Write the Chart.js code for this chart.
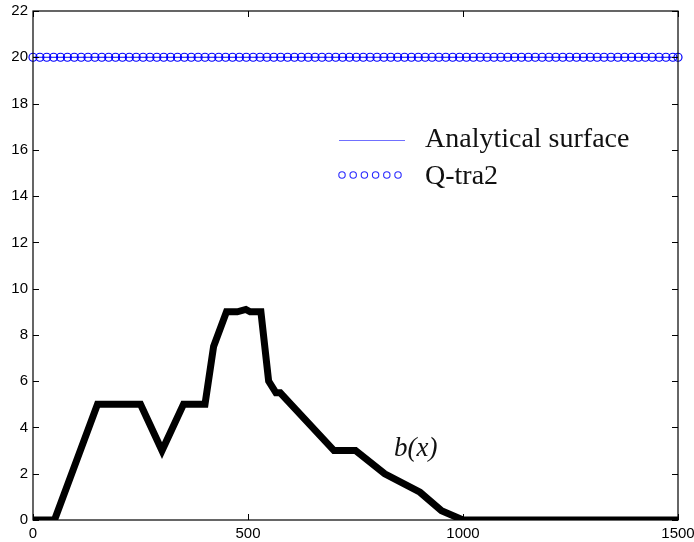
<!DOCTYPE html>
<html>
<head>
<meta charset="utf-8">
<script src="https://cdn.jsdelivr.net/npm/chart.js@4.4.0/dist/chart.umd.min.js"></script>
<style>
  html, body { margin: 0; padding: 0; background: #fff; }
  .wrap { width: 694px; height: 542px; }
</style>
</head>
<body>
<div class="wrap"><canvas id="chart"></canvas></div>
<script>
// bed profile b(x)
const bedX = [0, 50, 150, 250, 300, 350, 400, 420, 450, 475, 495, 505, 530, 548, 565, 575, 600, 700, 750, 818, 900, 950, 1000, 1500];
const bedY = [0, 0, 5, 5, 3, 5, 5, 7.5, 9, 9, 9.1, 9, 9, 6, 5.5, 5.5, 5, 3, 3, 2, 1.2, 0.4, 0, 0];

// analytical free surface
const surfX = [0, 1500];
const surfY = [20, 20];

// Q-tra2 markers
const qtraX = [0, 16, 32, 48, 64, 80, 96, 112, 128, 144, 160, 176, 192, 208, 224, 240, 256, 272, 288, 304,
  320, 336, 352, 368, 384, 400, 416, 432, 448, 464, 480, 496, 512, 528, 544, 560, 576, 592, 608, 624,
  640, 656, 672, 688, 704, 720, 736, 752, 768, 784, 800, 816, 832, 848, 864, 880, 896, 912, 928, 944,
  960, 976, 992, 1008, 1024, 1040, 1056, 1072, 1088, 1104, 1120, 1136, 1152, 1168, 1184, 1200, 1216, 1232,
  1248, 1264, 1280, 1296, 1312, 1328, 1344, 1360, 1376, 1392, 1408, 1424, 1440, 1456, 1472, 1488, 1500];
const qtraY = [20, 20, 20, 20, 20, 20, 20, 20, 20, 20, 20, 20, 20, 20, 20, 20, 20, 20, 20, 20,
  20, 20, 20, 20, 20, 20, 20, 20, 20, 20, 20, 20, 20, 20, 20, 20, 20, 20, 20, 20,
  20, 20, 20, 20, 20, 20, 20, 20, 20, 20, 20, 20, 20, 20, 20, 20, 20, 20, 20, 20,
  20, 20, 20, 20, 20, 20, 20, 20, 20, 20, 20, 20, 20, 20, 20, 20, 20, 20,
  20, 20, 20, 20, 20, 20, 20, 20, 20, 20, 20, 20, 20, 20, 20, 20, 20];

const xTicks = [0, 500, 1000, 1500];
const yTicks = [0, 2, 4, 6, 8, 10, 12, 14, 16, 18, 20, 22];

const legendItems = ['Analytical surface', 'Q-tra2'];
const curveLabel = 'b(x)';

const toPoints = (xs, ys) => xs.map((x, i) => ({ x: x, y: ys[i] }));

// box, inward ticks (matlab style), legend and the b(x) label
const framePlugin = {
  id: 'frame',
  afterDraw(chart) {
    const { ctx, chartArea: a, scales } = chart;
    const xs = scales.x;
    const ys = scales.y;
    ctx.save();
    ctx.strokeStyle = '#000';
    ctx.lineWidth = 1.2;
    ctx.strokeRect(a.left, a.top, a.right - a.left, a.bottom - a.top);

    ctx.lineWidth = 1;
    ctx.beginPath();
    xTicks.forEach(v => {
      const px = Math.round(xs.getPixelForValue(v)) + 0.5;
      ctx.moveTo(px, a.bottom); ctx.lineTo(px, a.bottom - 6);
      ctx.moveTo(px, a.top); ctx.lineTo(px, a.top + 6);
    });
    yTicks.forEach(v => {
      const py = Math.round(ys.getPixelForValue(v)) + 0.5;
      ctx.moveTo(a.left, py); ctx.lineTo(a.left + 6, py);
      ctx.moveTo(a.right, py); ctx.lineTo(a.right - 6, py);
    });
    ctx.stroke();

    // legend
    ctx.strokeStyle = '#7070ff';
    ctx.lineWidth = 1;
    ctx.beginPath();
    ctx.moveTo(339, 140.5); ctx.lineTo(405, 140.5);
    ctx.stroke();
    ctx.strokeStyle = '#2a2aff';
    ctx.lineWidth = 1.1;
    for (let i = 0; i < 6; i++) {
      ctx.beginPath();
      ctx.arc(342 + i * 11.2, 175, 3.2, 0, Math.PI * 2);
      ctx.stroke();
    }
    ctx.fillStyle = '#111';
    ctx.font = '28px "Liberation Serif", serif';
    ctx.textBaseline = 'alphabetic';
    ctx.fillText(legendItems[0], 425, 147);
    ctx.fillText(legendItems[1], 425, 184);

    // curve label
    ctx.font = 'italic 27px "Liberation Serif", serif';
    ctx.textAlign = 'center';
    ctx.fillText(curveLabel, xs.getPixelForValue(890), ys.getPixelForValue(2.75));
    ctx.restore();
  }
};

new Chart(document.getElementById('chart'), {
  type: 'line',
  data: {
    datasets: [
      {
        label: legendItems[1],
        data: toPoints(qtraX, qtraY),
        showLine: false,
        pointStyle: 'circle',
        pointRadius: 4,
        pointBorderWidth: 1.2,
        pointBorderColor: '#0000ff',
        pointBackgroundColor: 'rgba(0,0,0,0)',
        clip: false,
      },
      {
        label: legendItems[0],
        data: toPoints(surfX, surfY),
        borderColor: '#0000ff',
        borderWidth: 1,
        pointRadius: 0,
      },
      {
        label: curveLabel,
        data: toPoints(bedX, bedY),
        borderColor: '#000',
        borderWidth: 7,
        borderJoinStyle: 'miter',
        pointRadius: 0,
        clip: 0,
      },
    ],
  },
  options: {
    responsive: true,
    maintainAspectRatio: false,
    animation: false,
    layout: { padding: { top: 11, right: 16, left: 0, bottom: 0 } },
    plugins: {
      legend: { display: false },
      tooltip: { enabled: false },
    },
    scales: {
      x: {
        type: 'linear',
        min: 0,
        max: 1500,
        grid: { display: false, drawTicks: false },
        border: { display: false },
        afterBuildTicks: s => { s.ticks = xTicks.map(v => ({ value: v })); },
        afterFit: s => { s.height = 22; s.paddingLeft = 0; s.paddingRight = 0; },
        ticks: {
          padding: 5,
          maxRotation: 0,
          color: '#000',
          font: { family: 'Liberation Sans', size: 15 },
          callback: v => String(v),
        },
      },
      y: {
        min: 0,
        max: 22,
        grid: { display: false, drawTicks: false },
        border: { display: false },
        afterBuildTicks: s => { s.ticks = yTicks.map(v => ({ value: v })); },
        afterFit: s => { s.width = 33; s.paddingTop = 0; s.paddingBottom = 0; },
        ticks: {
          padding: 5,
          color: '#000',
          font: { family: 'Liberation Sans', size: 15 },
          callback: v => String(v),
        },
      },
    },
  },
  plugins: [framePlugin],
});
</script>
</body>
</html>
